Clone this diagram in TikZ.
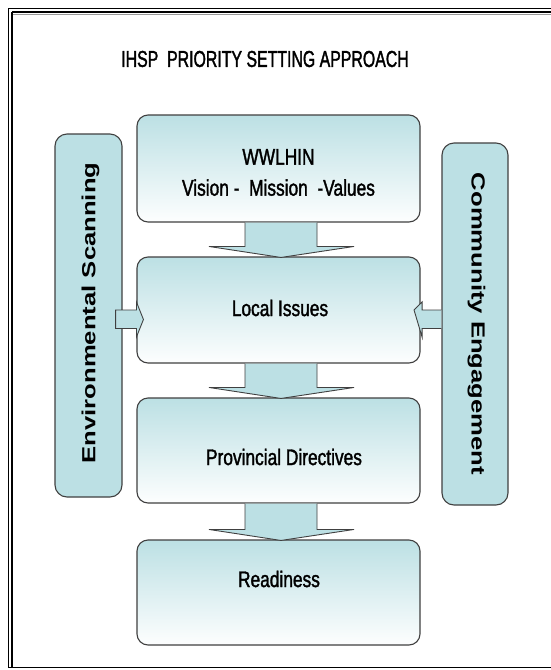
\documentclass[tikz,border=0pt]{standalone}
\usepackage{fontspec}
\setmainfont{Liberation Sans}
\newfontfamily\narrowfont[FakeStretch=0.77, FakeBold=1.5]{Liberation Sans}
\newfontfamily\titlefont[FakeStretch=0.69, FakeBold=1.5]{Liberation Sans}
\newfontfamily\widefont[FakeStretch=1.35]{Liberation Sans Bold}
\usetikzlibrary{calc}
\definecolor{boxblue}{HTML}{BCE0E4}
\definecolor{edgegray}{HTML}{404040}
\tikzset{
  mainbox/.style={draw=edgegray, line width=1.1pt, rounded corners=11pt,
    top color=boxblue, bottom color=white!97!boxblue,
    minimum width=283pt, inner sep=0pt},
  sidebox/.style={draw=edgegray, line width=1.1pt, rounded corners=12pt,
    fill=boxblue, minimum width=67pt, inner sep=0pt},
  blockarrow/.style={draw=edgegray, line width=0.9pt, fill=boxblue, line join=miter},
  maintext/.style={font=\narrowfont\fontsize{22.5}{31}\selectfont, align=center, inner sep=0pt},
  sidetext/.style={font=\widefont\fontsize{19}{22}\selectfont, inner sep=0pt},
  frameline/.style={draw=black}
}
\begin{document}
\begin{tikzpicture}[x=1pt,y=1pt]
\useasboundingbox (0,0) rectangle (550,-670);
\fill[white] (0,0) rectangle (550,-670);
% frame
\draw[frameline, line width=0.8pt] (8,-8) -- (552,-8);
\draw[frameline, line width=1.3pt] (12,-12) -- (552,-12);
\draw[black!40, line width=0.8pt] (13,-14.5) -- (552,-14.5);
\draw[frameline, line width=0.8pt] (8,-8) -- (8,-667.5);
\draw[frameline, line width=1.2pt] (12,-12) -- (12,-667.5);
\draw[frameline, line width=1pt] (8,-667.5) -- (552,-667.5);

% title
\node[font=\titlefont\fontsize{23}{26}\selectfont, inner sep=0pt] (title) at (265,-59) {IHSP\ \ PRIORITY SETTING APPROACH};

% side boxes
\node[sidebox, minimum height=363pt] (env) at (88.5,-315.5) {};
\node[sidebox, minimum width=66pt, minimum height=362pt] (comm) at (475,-324) {};
\node[sidetext, rotate=90] (envt) at (90.5,-313) {Environmental Scanning};
\node[sidetext, rotate=-90] (commt) at (476.5,-324) {Community Engagement};

% main boxes
\node[mainbox, minimum height=107pt] (w) at (278.5,-168.5) {};
\node[mainbox, minimum height=106pt] (l) at (278.5,-310) {};
\node[mainbox, minimum height=105pt] (p) at (278.5,-450.5) {};
\node[mainbox, minimum height=105pt] (r) at (278.5,-592.5) {};

\node[maintext] (wt) at (278.5,-172.5) {WWLHIN\\Vision -\ \ Mission\ \ -Values};
\node[maintext] (lt) at (280,-308) {Local Issues};
\node[maintext] (pt) at (284,-457) {Provincial Directives};
\node[maintext] (rt) at (279,-579) {Readiness};

% down arrows
\foreach \a/\b in {w/l, l/p, p/r}{
  \draw[blockarrow]
    ($(\a.south)+(-33.5,0)$) -- ($(\b.north)+(-33.5,10)$) -- ($(\b.north)+(-69.5,10)$)
    -- ($(\b.north)+(2.5,-1)$) -- ($(\b.north)+(75.5,10)$) -- ($(\b.north)+(38.5,10)$)
    -- ($(\a.south)+(38.5,0)$);
}

% side arrows
\path let \p1=(env.east), \p2=(l.west) in
  coordinate (la1) at (\x1-7, -310) coordinate (la2) at (\x2, -310);
\draw[blockarrow]
  (la1) -- (la1 |- 0,-328.5) -- (la2 |- 0,-328.5) -- (la2 |- 0,-337)
  -- ($(la2)+(7,-9.5)$ |- 0,-319.5) -- (la2 |- 0,-302) -- (la2 |- 0,-310) -- cycle;
\path let \p1=(comm.west), \p2=(l.east) in
  coordinate (ra1) at (\x1, -310) coordinate (ra2) at (\x2+1.5, -310);
\draw[blockarrow]
  (ra1) -- (ra2) -- (ra2 |- 0,-302) -- ($(ra2)+(-8,0)$ |- 0,-319.5)
  -- (ra2 |- 0,-337) -- (ra2 |- 0,-328.5) -- (ra1 |- 0,-328.5);
\end{tikzpicture}
\end{document}
